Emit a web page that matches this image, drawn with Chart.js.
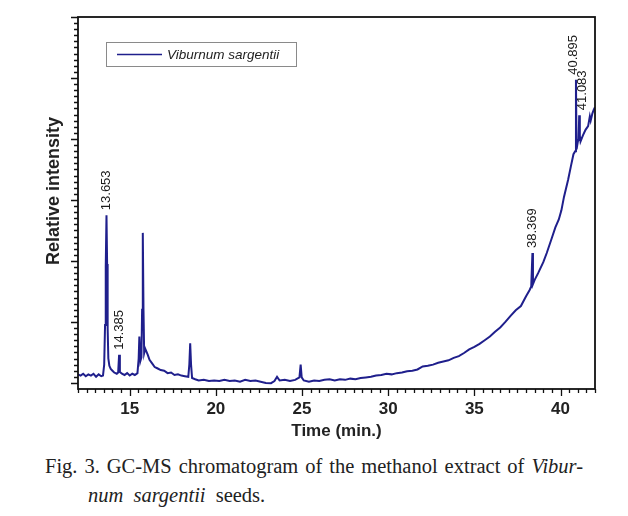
<!DOCTYPE html>
<html>
<head>
<meta charset="utf-8">
<script src="https://cdn.jsdelivr.net/npm/chart.js@4.4.1/dist/chart.umd.min.js"></script>
<style>
  html,body{margin:0;padding:0;background:#fff;}
  #wrap{position:relative;width:628px;height:516px;overflow:hidden;}
  #c{position:absolute;left:0;top:0;}
  .cap{position:absolute;font-family:"Liberation Serif","DejaVu Serif",serif;font-size:20.5px;color:#222;white-space:nowrap;line-height:24px;}
  #cap1{left:45px;top:454px;width:538px;text-align:justify;text-align-last:justify;}
  #cap2{left:88px;top:483px;word-spacing:5px;}
</style>
</head>
<body>
<div id="wrap">
  <canvas id="c" width="628" height="450"></canvas>
  <div class="cap" id="cap1">Fig. 3. GC-MS chromatogram of the methanol extract of <i>Vibur-</i></div>
  <div class="cap" id="cap2"><i>num sargentii</i> seeds.</div>
</div>
<script>
// ---- data ----
const seriesName = "Viburnum sargentii";
const times = [
  12.00,12.15,12.30,12.45,12.60,12.75,12.90,13.05,13.20,13.35,13.45,13.52,13.57,13.61,13.653,13.69,13.72,13.76,13.82,13.90,
  14.00,14.10,14.25,14.33,14.385,14.43,14.55,14.70,14.85,15.00,15.15,15.30,15.45,15.52,15.56,15.62,15.68,15.72,15.76,15.80,
  15.84,15.90,15.96,16.05,16.15,16.30,16.45,16.60,16.80,17.00,17.20,17.40,17.60,17.80,18.00,18.20,18.40,18.46,18.51,18.56,
  18.62,18.80,19.00,19.30,19.60,19.90,20.20,20.50,20.80,21.10,21.40,21.70,22.00,22.30,22.60,22.90,23.20,23.40,23.55,23.70,
  24.00,24.30,24.60,24.85,24.92,24.98,25.10,25.40,25.70,26.00,26.30,26.60,26.90,27.20,27.50,27.80,28.10,28.40,28.70,29.00,
  29.30,29.60,29.90,30.20,30.50,30.80,31.10,31.40,31.70,32.00,32.30,32.60,32.90,33.20,33.50,33.80,34.10,34.40,34.70,35.00,
  35.30,35.60,35.90,36.20,36.50,36.80,37.10,37.40,37.70,38.00,38.20,38.30,38.369,38.40,38.50,38.70,39.00,39.20,39.50,39.70,
  39.90,40.05,40.20,40.44,40.60,40.75,40.85,40.895,40.93,41.00,41.05,41.083,41.12,41.16,41.30,41.45,41.60,41.70,41.75,41.85,
  41.93,42.00
];
const intensity = [
  1.4,1.2,1.5,1.1,1.4,1.2,1.5,1.0,1.4,1.1,1.2,3.0,9.5,19.0,27.5,19.5,9.0,4.0,2.8,2.3,
  2.0,1.7,1.5,1.7,4.6,1.8,1.5,1.3,1.6,1.2,1.5,1.3,1.6,4.0,7.6,3.6,4.2,12.0,24.6,12.0,
  4.9,5.6,5.2,4.6,3.8,3.2,2.6,2.4,2.1,2.0,1.6,1.7,1.3,1.4,1.2,1.1,1.0,3.0,6.5,3.0,
  0.8,0.6,0.4,0.5,0.3,0.4,0.3,0.5,0.3,0.4,0.2,0.5,0.3,0.4,0.2,0.0,-0.05,0.3,1.0,0.4,
  0.5,0.3,0.5,0.9,3.0,0.9,0.4,0.2,0.4,0.3,0.5,0.6,0.4,0.6,0.5,0.7,0.6,0.8,0.9,1.0,
  1.2,1.3,1.5,1.4,1.6,1.7,1.9,2.0,2.2,2.7,2.8,3.0,3.3,3.5,3.7,4.1,4.4,4.9,5.5,5.9,
  6.4,7.0,7.6,8.4,9.1,10.0,11.0,11.9,12.6,14.2,15.2,15.8,21.3,16.2,16.9,18.0,19.8,21.3,23.8,25.5,
  26.8,28.3,30.5,33.3,35.5,37.5,38.0,49.7,38.3,39.5,40.0,43.9,40.5,39.6,40.6,41.5,42.1,43.7,43.0,44.2,
  44.8,45.2
];
// labelled peaks
const peakTimes = [13.653, 14.385, 38.369, 40.895, 41.083];
const peakTexts = ["13.653", "14.385", "38.369", "40.895", "41.083"];
const xTicks = [15, 20, 25, 30, 35, 40];

const INK = "#1f1f8c";

// frame, tick marks, peak labels, legend, y title
const decor = {
  id: "decor",
  afterDraw(chart, args, opts){
    const {ctx, chartArea:a, scales:{x, y}} = chart;
    ctx.save();
    // ticks x
    ctx.strokeStyle = "#111"; ctx.lineWidth = 1.3;
    ctx.beginPath();
    for(let v = x.min; v <= x.max + 1e-6; v += 0.5){
      const px = Math.round(x.getPixelForValue(v)) + 0.5;
      const len = (Math.abs(v % 5) < 1e-6) ? 7 : 4;
      ctx.moveTo(px, a.bottom); ctx.lineTo(px, a.bottom + len);
    }
    // ticks y
    for(let v = 0; v <= y.max + 1e-6; v += 1){
      const py = Math.round(y.getPixelForValue(v)) + 0.5;
      const len = (v % 10 === 0) ? 7 : 4;
      ctx.moveTo(a.left, py); ctx.lineTo(a.left - len, py);
    }
    ctx.stroke();
    // frame
    ctx.lineWidth = 1.8; ctx.strokeStyle = "#111";
    ctx.strokeRect(a.left, a.top, a.right - a.left, a.bottom - a.top);

    // peak labels
    ctx.fillStyle = "#1a1a1a";
    ctx.font = "13px 'Liberation Sans', Arial, sans-serif";
    ctx.textAlign = "left"; ctx.textBaseline = "middle";
    peakTimes.forEach((t, i)=>{
      const k = times.indexOf(t);
      const px = x.getPixelForValue(t) + (opts.nudge[peakTexts[i]] || 0);
      const py = y.getPixelForValue(intensity[k]);
      ctx.save(); ctx.translate(px, py - 5); ctx.rotate(-Math.PI/2);
      ctx.fillText(peakTexts[i], 0, 0); ctx.restore();
    });

    // legend box
    const lx = a.left + 28, ly = a.top + 25;
    ctx.lineWidth = 1; ctx.strokeStyle = "#8a8a8a";
    ctx.strokeRect(lx + 0.5, ly + 0.5, 190, 24);
    ctx.strokeStyle = INK; ctx.lineWidth = 1.5;
    ctx.beginPath(); ctx.moveTo(lx + 11, ly + 12.5); ctx.lineTo(lx + 56, ly + 12.5); ctx.stroke();
    ctx.fillStyle = "#222";
    ctx.font = "italic 13.5px 'Liberation Sans', Arial, sans-serif";
    ctx.fillText(seriesName, lx + 61, ly + 13);

    // y title
    ctx.font = "bold 18px 'Liberation Sans', Arial, sans-serif";
    ctx.textAlign = "center";
    ctx.translate(a.left - 24, (a.top + a.bottom)/2 - 12);
    ctx.rotate(-Math.PI/2);
    ctx.fillText("Relative intensity", 0, 0);
    ctx.restore();
  }
};

new Chart(document.getElementById("c"), {
  type: "line",
  data: {
    datasets: [{
      label: seriesName,
      data: times.map((t, i)=>({x: t, y: intensity[i]})),
      borderColor: INK, borderWidth: 2,
      pointRadius: 0, tension: 0, fill: false
    }]
  },
  options: {
    responsive: false, animation: false,
    layout: {padding: {left: 0, top: 17, right: 33, bottom: 0}},
    plugins: {legend: {display: false}, tooltip: {enabled: false}, decor: {nudge: {"40.895": -3, "41.083": 3}}},
    scales: {
      x: {
        type: "linear", min: 12, max: 42,
        grid: {display: false, drawTicks: false}, border: {display: false},
        afterBuildTicks: s => { s.ticks = xTicks.map(v => ({value: v})); },
        afterFit: s => { s.height = 61; },
        ticks: {padding: 10, color: "#222", font: {family: "'Liberation Sans', Arial, sans-serif", size: 17, weight: "bold"}},
        title: {display: true, text: "Time (min.)", color: "#222", padding: {top: 0, bottom: 8},
          font: {family: "'Liberation Sans', Arial, sans-serif", size: 17, weight: "bold"}}
      },
      y: {
        type: "linear", min: -1, max: 60,
        grid: {display: false, drawTicks: false}, border: {display: false},
        ticks: {display: false},
        afterFit: s => { s.width = 78; }
      }
    }
  },
  plugins: [decor]
});
</script>
</body>
</html>
